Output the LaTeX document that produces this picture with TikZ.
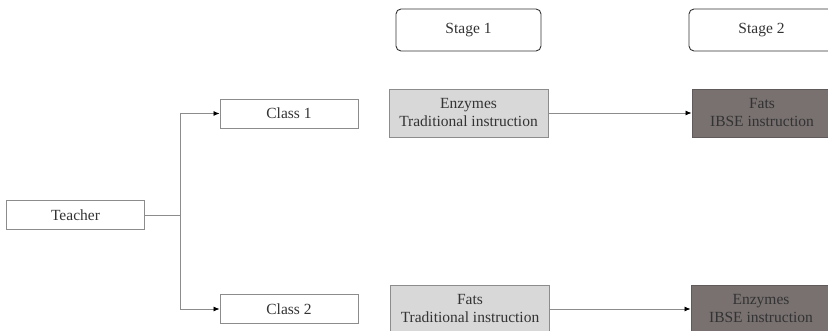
\documentclass[tikz,border=0pt]{standalone}
\usepackage{fontspec}
\setmainfont{Liberation Serif}
\usepackage{tikz}
\usetikzlibrary{arrows.meta}

\definecolor{lightbox}{HTML}{D8D8D8}
\definecolor{darkbox}{HTML}{787170}
\definecolor{linegray}{HTML}{8C8C8C}
\definecolor{textgray}{HTML}{333333}

\begin{document}
\begin{tikzpicture}[x=1pt,y=-1pt,
	every node/.style={font=\fontsize{15.5}{18}\selectfont, text=textgray, align=center, inner sep=0pt},
	plain node/.style={draw=linegray, line width=0.9pt, minimum width=138pt, minimum height=29pt},
	stage node/.style={draw=black!80, line width=0.9pt, rounded corners=5pt, minimum width=145pt, minimum height=42pt},
	trad node/.style={draw=linegray, line width=0.9pt, fill=lightbox, minimum width=159pt, minimum height=48pt},
	ibse node/.style={draw=darkbox!80!black, line width=0.9pt, fill=darkbox, minimum width=140pt, minimum height=48pt},
	link/.style={draw=linegray, line width=0.8pt},
	arr/.style={link, -{Latex[length=6pt,width=5pt,black]}}]
	
	\path[use as bounding box, clip] (0,0) rectangle (828,331);
	
	\node[plain node] (teacher) at (75.5,215) {Teacher};
	\node[plain node] (class1) at (289,113.5) {Class 1};
	\node[plain node] (class2) at (289,309) {Class 2};
	
	\node[stage node] (stage1) at (468.5,30) {Stage 1};
	\node[stage node] (stage2) at (761.5,30) {Stage 2};
	
	\node[trad node] (enz1) at (468.5,113) {Enzymes\\Traditional instruction};
	\node[ibse node] (fats2) at (762,113) {Fats\\IBSE instruction};
	\node[trad node] (fats1) at (470,309) {Fats\\Traditional instruction};
	\node[ibse node] (enz2) at (761,309) {Enzymes\\IBSE instruction};
	
	\coordinate (split) at (180,215);
	
	\draw[link] (teacher) -- (split);
	\draw[arr] (split) |- (class1);
	\draw[arr] (split) |- (class2);
	\draw[arr] (enz1) -- (fats2);
	\draw[arr] (fats1) -- (enz2);
	
\end{tikzpicture}
\end{document}
